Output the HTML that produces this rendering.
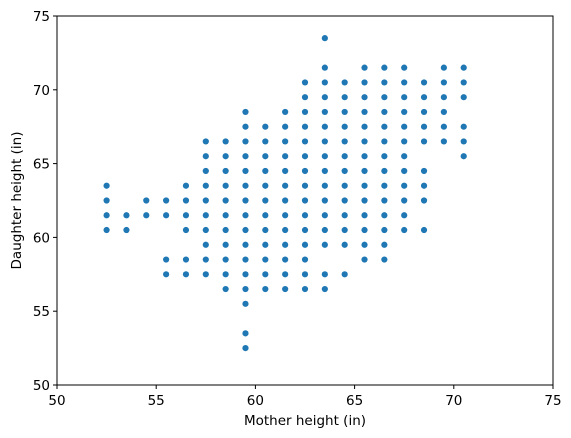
<!DOCTYPE html>
<html><head><meta charset="utf-8"><style>
html,body{margin:0;padding:0;background:#fff;}
svg{display:block;font-family:"DejaVu Sans","Liberation Sans",sans-serif;}
</style></head><body>
<svg id="chart" width="571" height="438" viewBox="0 0 571 438" xmlns="http://www.w3.org/2000/svg"></svg>
<script>
const xTicks = [50, 55, 60, 65, 70, 75];
const yTicks = [50, 55, 60, 65, 70, 75];
const motherCols = [52.5, 53.5, 54.5, 55.5, 56.5, 57.5, 58.5, 59.5, 60.5, 61.5, 62.5, 63.5, 64.5, 65.5, 66.5, 67.5, 68.5, 69.5, 70.5];
const daughterCols = [
  [63.5, 62.5, 61.5, 60.5],
  [61.5, 60.5],
  [62.5, 61.5],
  [62.5, 61.5, 58.5, 57.5],
  [63.5, 62.5, 61.5, 60.5, 58.5, 57.5],
  [66.5, 65.5, 64.5, 63.5, 62.5, 61.5, 60.5, 59.5, 58.5, 57.5],
  [66.5, 65.5, 64.5, 63.5, 62.5, 61.5, 60.5, 59.5, 58.5, 57.5, 56.5],
  [68.5, 67.5, 66.5, 65.5, 64.5, 63.5, 62.5, 61.5, 60.5, 59.5, 58.5, 57.5, 56.5, 55.5, 53.5, 52.5],
  [67.5, 66.5, 65.5, 64.5, 63.5, 62.5, 61.5, 60.5, 59.5, 58.5, 57.5, 56.5],
  [68.5, 67.5, 66.5, 65.5, 64.5, 63.5, 62.5, 61.5, 60.5, 59.5, 58.5, 57.5, 56.5],
  [70.5, 69.5, 68.5, 67.5, 66.5, 65.5, 64.5, 63.5, 62.5, 61.5, 60.5, 59.5, 58.5, 57.5, 56.5],
  [73.5, 71.5, 70.5, 69.5, 68.5, 67.5, 66.5, 65.5, 64.5, 63.5, 62.5, 61.5, 60.5, 59.5, 57.5, 56.5],
  [70.5, 69.5, 68.5, 67.5, 66.5, 65.5, 64.5, 63.5, 62.5, 61.5, 60.5, 59.5, 57.5],
  [71.5, 70.5, 69.5, 68.5, 67.5, 66.5, 65.5, 64.5, 63.5, 62.5, 61.5, 60.5, 59.5, 58.5],
  [71.5, 70.5, 69.5, 68.5, 67.5, 66.5, 65.5, 64.5, 63.5, 62.5, 61.5, 60.5, 59.5, 58.5],
  [71.5, 70.5, 69.5, 68.5, 67.5, 66.5, 65.5, 64.5, 63.5, 62.5, 61.5, 60.5],
  [70.5, 69.5, 68.5, 67.5, 66.5, 64.5, 63.5, 62.5, 60.5],
  [71.5, 70.5, 69.5, 68.5, 67.5, 66.5],
  [71.5, 70.5, 69.5, 67.5, 66.5, 65.5]
];

const svg = document.getElementById('chart');
const NS = 'http://www.w3.org/2000/svg';
const L = 57, R = 553, T = 16, B = 385;
const xMin = 50, xMax = 75, yMin = 50, yMax = 75;
function xs(v){ return L + (v - xMin) / (xMax - xMin) * (R - L); }
function ys(v){ return B - (v - yMin) / (yMax - yMin) * (B - T); }
function mk(tag, attrs, parent){
  const e = document.createElementNS(NS, tag);
  for (const k in attrs) e.setAttribute(k, attrs[k]);
  (parent || svg).appendChild(e);
  return e;
}

const pts = mk('g', {});


motherCols.forEach((m, i) => {
  daughterCols[i].forEach(d => {
    const c = mk('circle', {cx: xs(m), cy: ys(d), r: 3.1, fill: '#1f77b4'}, pts);
    
    
  });
});

const frame = mk('rect', {x: L, y: T, width: R - L, height: B - T, fill: 'none', stroke: '#000', 'stroke-width': 1});



const FS = 13.5;
const xAxis = mk('g', {});


xTicks.forEach(t => {
  const x = xs(t);
  mk('line', {x1: x, x2: x, y1: B, y2: B + 4, stroke: '#000'}, xAxis);
  const lb = mk('text', {x: x, y: B + 20, 'text-anchor': 'middle', 'font-size': FS}, xAxis);
  lb.textContent = t;
  
  
});
const yAxis = mk('g', {});


yTicks.forEach(t => {
  const y = ys(t);
  mk('line', {x1: L - 4, x2: L, y1: y, y2: y, stroke: '#000'}, yAxis);
  const lb = mk('text', {x: L - 7, y: y + 5, 'text-anchor': 'end', 'font-size': FS}, yAxis);
  lb.textContent = t;
  
  
});
const xt = mk('text', {x: (L + R) / 2, y: 425, 'text-anchor': 'middle', 'font-size': FS});
xt.textContent = 'Mother height (in)';


const yt = mk('text', {x: 0, y: 0, 'text-anchor': 'middle', 'font-size': FS, transform: 'translate(21,' + ((T + B) / 2) + ') rotate(-90)'});
yt.textContent = 'Daughter height (in)';


</script>
</body></html>
